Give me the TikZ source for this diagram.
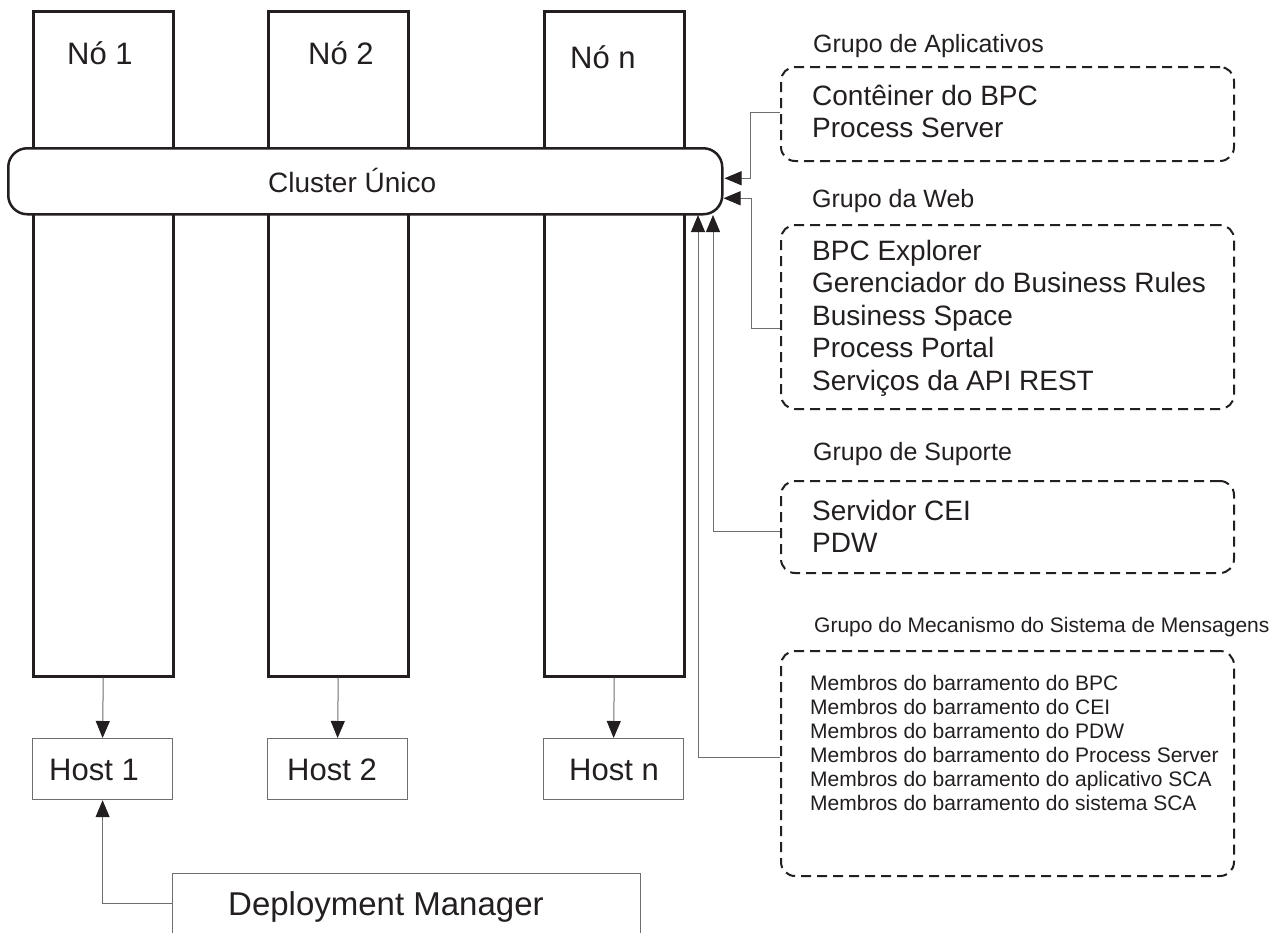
\documentclass[tikz,border=0pt]{standalone}
\usepackage{fontspec}
\setmainfont{Liberation Sans}
\usetikzlibrary{arrows.meta}
\definecolor{ink}{HTML}{231F20}
\definecolor{wire}{HTML}{6D6E71}
\begin{document}
\begin{tikzpicture}[x=1pt,y=-1pt,
  col/.style={draw=ink, line width=2.5pt, fill=white, minimum width=140pt, minimum height=665pt, anchor=north west, inner sep=0pt},
  hostbox/.style={draw=wire, line width=1.2pt, minimum width=140pt, minimum height=61pt, anchor=north west, inner sep=0pt},
  grp/.style={draw=ink, line width=2pt, dash pattern=on 10pt off 6pt, rounded corners=14pt, anchor=north west, inner sep=0pt, minimum width=453pt},
  lbl/.style={anchor=base west, inner sep=0pt, text=ink},
  bigtxt/.style={lbl, font=\fontsize{31}{31}\selectfont},
  bodytxt/.style={lbl, font=\fontsize{28}{28}\selectfont},
  headtxt/.style={lbl, font=\fontsize{25}{25}\selectfont},
  smalltxt/.style={lbl, font=\fontsize{21}{21}\selectfont},
  arr/.style={draw=wire, line width=1pt, -{Triangle[length=17pt,width=14pt,color=ink]}}
]
\clip (0,0) rectangle (1287,932);
\fill[white] (0,0) rectangle (1287,932);

% node columns
\node[col] (c1) at (32,10) {};
\node[col] (c2) at (267,10) {};
\node[col] (cn) at (543,10) {};
\node[bigtxt] (t1) at (67,64) {Nó 1};
\node[bigtxt] (t2) at (308,64) {Nó 2};
\node[bigtxt] (tn) at (570,68) {Nó n};

% cluster
\node[draw=ink, line width=2.5pt, fill=white, rounded corners=19pt, minimum width=714pt, minimum height=66pt, anchor=north west, inner sep=0pt] (cl) at (7,147) {};
\node[lbl, font=\fontsize{28}{28}\selectfont] (clt) at (268,192) {Cluster Único};

% hosts
\node[hostbox] (h1) at (32,738) {};
\node[hostbox] (h2) at (267,738) {};
\node[hostbox] (hn) at (543,738) {};
\node[bigtxt] (ht1) at (49,780) {Host 1};
\node[bigtxt] (ht2) at (287,780) {Host 2};
\node[bigtxt] (htn) at (569,780) {Host n};

% deployment manager
\node[draw=wire, line width=1.2pt, minimum width=468pt, minimum height=100pt, anchor=north west, inner sep=0pt] (dm) at (172,873) {};
\node[lbl, font=\fontsize{33}{33}\selectfont] (dmt) at (228,915) {Deployment Manager};

% group boxes
\node[grp, minimum height=94pt] (gapp) at (780,66) {};
\node[grp, minimum height=184pt] (gweb) at (780,224) {};
\node[grp, minimum height=92pt] (gsup) at (780,480) {};
\node[grp, minimum height=225pt] (gmsg) at (780,650) {};

\node[headtxt] (happ) at (813,52) {Grupo de Aplicativos};
\node[bodytxt] (a1) at (812,105) {Contêiner do BPC};
\node[bodytxt] (a2) at (812,137) {Process Server};

\node[headtxt] (hweb) at (812,207) {Grupo da Web};
\node[bodytxt] (w1) at (812,260) {BPC Explorer};
\node[bodytxt] (w2) at (812,292.5) {Gerenciador do Business Rules};
\node[bodytxt] (w3) at (812,325) {Business Space};
\node[bodytxt] (w4) at (812,357.5) {Process Portal};
\node[bodytxt] (w5) at (812,390) {Serviços da API REST};

\node[headtxt] (hsup) at (813,460) {Grupo de Suporte};
\node[bodytxt] (s1) at (812,520) {Servidor CEI};
\node[bodytxt] (s2) at (812,552) {PDW};

\node[smalltxt] (hmsg) at (814,632) {Grupo do Mecanismo do Sistema de Mensagens};
\node[smalltxt] (m1) at (810,690) {Membros do barramento do BPC};
\node[smalltxt] (m2) at (810,714) {Membros do barramento do CEI};
\node[smalltxt] (m3) at (810,738) {Membros do barramento do PDW};
\node[smalltxt] (m4) at (810,762) {Membros do barramento do Process Server};
\node[smalltxt] (m5) at (810,786) {Membros do barramento do aplicativo SCA};
\node[smalltxt] (m6) at (810,810) {Membros do barramento do sistema SCA};

% connectors
\coordinate (u1) at (698,215);
\coordinate (u2) at (713,215);
\draw[arr] ([yshift=2pt]gapp.west) -- ++(-30,0) |- ([yshift=3pt,xshift=1pt]cl.east);
\draw[arr] ([yshift=-11pt]gweb.west) -- ++(-29,0) |- ([yshift=-17pt]cl.east);
\draw[arr] ([yshift=-4pt]gsup.west) -| (u2);
\draw[arr] ([yshift=6.5pt]gmsg.west) -| (u1);

\draw[arr] (c1.south) -- (h1.north);
\draw[arr] (c2.south) -- (h2.north);
\draw[arr] (cn.south) -- (hn.north);
\draw[arr] ([yshift=20pt]dm.west) -| (h1.south);
\end{tikzpicture}
\end{document}
